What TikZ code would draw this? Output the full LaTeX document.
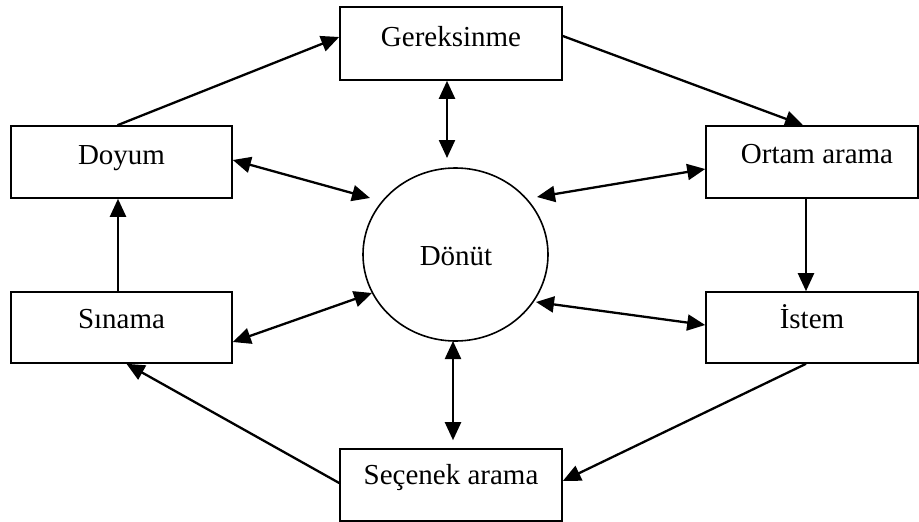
\documentclass[tikz,border=0pt]{standalone}
\usepackage{fontspec}
\setmainfont{Liberation Serif}
\usetikzlibrary{arrows.meta,shapes.geometric}
\begin{document}
\begin{tikzpicture}[x=1pt,y=-1pt,
  box/.style={draw,line width=1.6pt,rectangle,inner sep=0pt},
  lbl/.style={anchor=base,inner sep=0pt,font=\fontsize{29}{34}\selectfont},
  flow/.style={line width=2.3pt,-{Triangle[length=18pt,width=16pt]}},
  both/.style={line width=2.3pt,{Triangle[length=18pt,width=16pt]}-{Triangle[length=18pt,width=16pt]}}]
\useasboundingbox (0,0) rectangle (919,522);

% stage boxes
\node[box,minimum width=222pt,minimum height=73pt] (g)  at (451,43.5)  {};
\node[box,minimum width=221pt,minimum height=72pt] (d)  at (121.5,162) {};
\node[box,minimum width=212pt,minimum height=72pt] (o)  at (812,162)   {};
\node[box,minimum width=221pt,minimum height=71pt] (s)  at (121.5,327.5) {};
\node[box,minimum width=212pt,minimum height=71pt] (i)  at (812,327.5) {};
\node[box,minimum width=222pt,minimum height=72pt] (se) at (451,485)   {};

% feedback hub
\node[draw,ellipse,line width=1.6pt,inner sep=0pt,minimum width=185pt,minimum height=173pt] (c) at (455.5,254.5) {};

% labels
\node[lbl] (gt)  at (451,46)    {Gereksinme};
\node[lbl] (dt)  at (121.5,164) {Doyum};
\node[lbl] (ot)  at (817,163)   {Ortam arama};
\node[lbl] (st)  at (121.5,328) {Sınama};
\node[lbl] (it)  at (812,328)   {İstem};
\node[lbl] (set) at (451,484)   {Seçenek arama};
\node[lbl] (ct)  at (456,265)   {Dönüt};

% arrow tips near the hub
\coordinate (cg) at (447,158);
\coordinate (cd) at (370,198);
\coordinate (co) at (537,197);
\coordinate (cs) at (372,293);
\coordinate (ci) at (536,302);
\coordinate (cse) at (453,341);

% cycle
\draw[flow] ([xshift=-4pt]d.north) -- ([yshift=6.5pt]g.west);
\draw[flow] ([yshift=7.5pt]g.east) -- ([xshift=-9pt]o.north);
\draw[flow] ([xshift=-6pt]o.south) -- ([xshift=-6pt]i.north);
\draw[flow] ([xshift=-6pt]i.south) -- ([yshift=4pt]se.east);
\draw[flow] ([yshift=2pt]se.west) -- ([xshift=5pt]s.south);
\draw[flow] ([xshift=-3.5pt]s.north) -- ([xshift=-3.5pt]d.south);

% links with the hub
\draw[both] ([xshift=-4pt]g.south) -- (cg);
\draw[both] ([yshift=2pt]d.east) -- (cd);
\draw[both] ([yshift=-7pt]o.west) -- (co);
\draw[both] ([yshift=-14.5pt]s.east) -- (cs);
\draw[both] ([yshift=2.5pt]i.west) -- (ci);
\draw[both] (cse) -- ([xshift=2pt,yshift=8pt]se.north);
\end{tikzpicture}
\end{document}
